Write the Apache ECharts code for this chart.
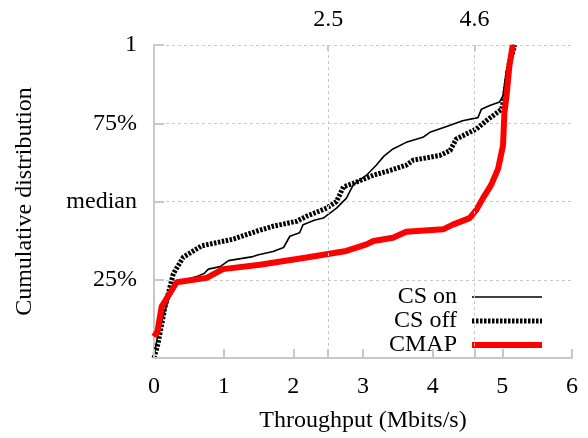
<!DOCTYPE html>
<html>
<head>
<meta charset="utf-8">
<script src="https://cdn.jsdelivr.net/npm/echarts@6/dist/echarts.min.js"></script>
<style>html,body{margin:0;padding:0;background:#fff}#c{width:588px;height:438px}</style>
</head>
<body>
<div id="c"></div>
<script>
const seriesNames = ['CS on', 'CS off', 'CMAP'];
const xTicks = [0, 1, 2, 3, 4, 5, 6];
const topTicks = [2.5, 4.6];
const yTickLabels = {0.25: '25%', 0.5: 'median', 0.75: '75%', 1: '1'};

const csOn = [
  [0, 0.005], [0.06, 0.079], [0.16, 0.153], [0.25, 0.216], [0.33, 0.242],
  [0.61, 0.26], [0.72, 0.27], [0.78, 0.284], [0.95, 0.292], [1.07, 0.311],
  [1.42, 0.324], [1.5, 0.33], [1.71, 0.34], [1.86, 0.353], [1.95, 0.389],
  [2.09, 0.4], [2.14, 0.426], [2.3, 0.44], [2.43, 0.447], [2.62, 0.479],
  [2.76, 0.51], [2.86, 0.553], [3.05, 0.584], [3.19, 0.616], [3.3, 0.645],
  [3.43, 0.668], [3.62, 0.689], [3.86, 0.705], [3.96, 0.721], [4.2, 0.74],
  [4.43, 0.758], [4.65, 0.768], [4.7, 0.795], [4.82, 0.807], [4.96, 0.818],
  [5.01, 0.837], [5.06, 0.921], [5.18, 1]
];
const csOff = [
  [0, 0], [0.06, 0.048], [0.158, 0.164], [0.277, 0.269], [0.42, 0.322],
  [0.68, 0.358], [1.14, 0.38], [1.47, 0.405],
  [1.71, 0.421], [2.05, 0.437], [2.19, 0.453], [2.48, 0.479], [2.62, 0.5],
  [2.72, 0.547], [2.86, 0.558], [3.15, 0.584], [3.4, 0.6], [3.62, 0.616],
  [3.72, 0.632], [4.1, 0.647], [4.25, 0.663], [4.34, 0.7], [4.63, 0.732],
  [4.77, 0.758], [4.99, 0.795], [5.03, 0.837], [5.1, 0.942], [5.18, 1]
];
const cmap = [
  [0, 0.068], [0.05, 0.085], [0.11, 0.164], [0.325, 0.242], [0.755, 0.256],
  [0.99, 0.284], [1.52, 0.298], [2.19, 0.321], [2.76, 0.342], [3.05, 0.363],
  [3.15, 0.374], [3.43, 0.384], [3.62, 0.403], [4.15, 0.411], [4.29, 0.426],
  [4.53, 0.447], [4.63, 0.474], [4.72, 0.51], [4.84, 0.553], [4.94, 0.605],
  [5.01, 0.679], [5.03, 0.784], [5.06, 0.837], [5.1, 0.931], [5.15, 1]
];

const FONT = 'Liberation Serif';
const FS = 24;
const GRAY = '#c8c8c8';
const chart = echarts.init(document.getElementById('c'), null, {renderer: 'canvas'});
chart.setOption({
  animation: false,
  textStyle: {fontFamily: FONT, color: '#000'},
  grid: {left: 154, right: 16, top: 45, bottom: 76, containLabel: false},
  legend: {
    data: seriesNames,
    orient: 'vertical',
    align: 'right',
    right: 33,
    top: 285,
    itemWidth: 70,
    itemHeight: 14,
    itemGap: 0,
    z: 4,
    backgroundColor: '#fff',
    padding: [0, 10, 0, 6],
    itemStyle: {opacity: 0, color: 'rgba(0,0,0,0)', borderWidth: 0},
    lineStyle: {width: 'inherit', type: 'inherit', color: 'inherit'},
    textStyle: {fontFamily: FONT, fontSize: FS, lineHeight: 24, color: '#000', width: 80, align: 'right', padding: [0, 10, 0, 0]}
  },
  xAxis: [{
    type: 'value', min: 0, max: 6, interval: 1, position: 'bottom', z: 5,
    name: 'Throughput (Mbits/s)', nameLocation: 'middle', nameGap: 51,
    nameTextStyle: {fontFamily: FONT, fontSize: FS, color: '#000'},
    axisLine: {show: true, lineStyle: {color: GRAY, width: 2}},
    axisTick: {show: true, inside: true, length: 9, lineStyle: {color: GRAY, width: 2}, customValues: [0, 1, 2, 2.5, 3, 4, 4.6, 5, 6]},
    axisLabel: {fontFamily: FONT, fontSize: FS, color: '#000', margin: 17, customValues: xTicks},
    splitLine: {show: false}
  }, {
    type: 'value', min: 0, max: 6, position: 'top',
    axisLine: {show: false},
    axisTick: {show: true, inside: true, length: 6, lineStyle: {color: GRAY, width: 2}, customValues: topTicks},
    axisLabel: {fontFamily: FONT, fontSize: FS, color: '#000', margin: 13, customValues: topTicks},
    splitLine: {show: false}
  }],
  yAxis: {
    type: 'value', min: 0, max: 1, interval: 0.25,
    name: 'Cumulative distribution', nameLocation: 'middle', nameGap: 117, nameRotate: 90,
    nameTextStyle: {fontFamily: FONT, fontSize: FS, color: '#000'},
    axisLine: {show: true, lineStyle: {color: GRAY, width: 2}},
    axisTick: {show: true, inside: true, length: 10, lineStyle: {color: GRAY, width: 2}},
    axisLabel: {fontFamily: FONT, fontSize: FS, color: '#000', margin: 17,
      formatter: v => yTickLabels[v] || ''},
    splitLine: {show: true, lineStyle: {color: GRAY, type: [3, 3], width: 1}}
  },
  series: [
    {
      name: 'grid', type: 'line', data: [], z: 1, silent: true,
      markLine: {
        symbol: 'none', silent: true, label: {show: false},
        lineStyle: {color: GRAY, type: [3, 3], width: 1},
        data: topTicks.map(v => ({xAxis: v}))
      }
    },
    {name: seriesNames[0], type: 'line', data: csOn, showSymbol: false, symbol: 'none', z: 3,
      lineStyle: {color: '#000', width: 1.6}, itemStyle: {color: '#000'}},
    {name: seriesNames[1], type: 'line', data: csOff, showSymbol: false, symbol: 'none', z: 3,
      lineStyle: {color: '#000', width: 5, type: [2.5, 1.5]}, itemStyle: {color: '#000'}},
    {name: seriesNames[2], type: 'line', data: cmap, showSymbol: false, symbol: 'none', z: 4,
      lineStyle: {color: '#ff0000', width: 6}, itemStyle: {color: '#ff0000'}}
  ]
});
</script>
</body>
</html>
